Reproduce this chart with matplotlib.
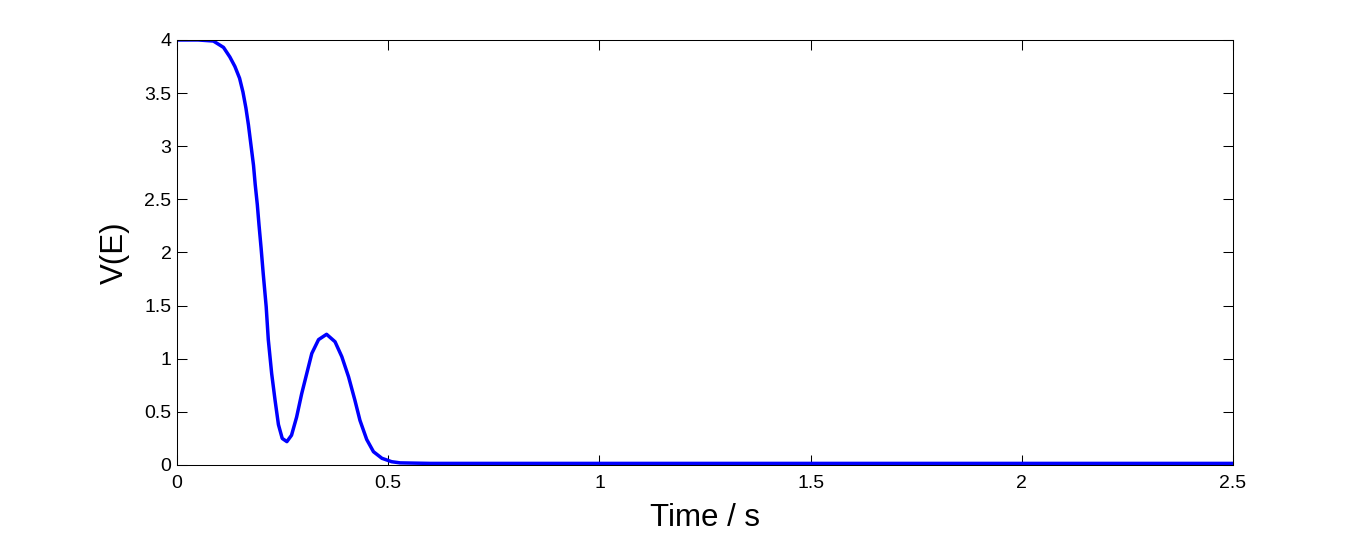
import matplotlib
matplotlib.use('Agg')
import matplotlib.pyplot as plt

plt.rcParams['font.family'] = ['Liberation Sans', 'DejaVu Sans']

# values
time = [0.0, 0.05, 0.086, 0.110, 0.125, 0.137, 0.148, 0.156, 0.163, 0.169,
        0.175, 0.181, 0.185, 0.190, 0.194, 0.199, 0.204, 0.211, 0.216, 0.224,
        0.232, 0.240, 0.249, 0.260, 0.271, 0.283, 0.295, 0.307, 0.319, 0.335,
        0.354, 0.374, 0.390, 0.406, 0.421, 0.433, 0.449, 0.465, 0.485, 0.508,
        0.528, 0.6, 1.0, 1.5, 2.0, 2.5]
ve = [4.0, 4.0, 3.99, 3.93, 3.84, 3.75, 3.64, 3.51, 3.36, 3.20,
      3.01, 2.82, 2.64, 2.45, 2.26, 2.04, 1.80, 1.49, 1.18, 0.86,
      0.61, 0.38, 0.25, 0.22, 0.28, 0.45, 0.67, 0.86, 1.05, 1.18,
      1.23, 1.16, 1.02, 0.83, 0.61, 0.42, 0.24, 0.125, 0.063, 0.031,
      0.02, 0.015, 0.015, 0.015, 0.015, 0.015]

xticks = [0, 0.5, 1, 1.5, 2, 2.5]
yticks = [0, 0.5, 1, 1.5, 2, 2.5, 3, 3.5, 4]

fig = plt.figure(figsize=(13.62, 5.38), dpi=100)
ax = fig.add_axes([0.130, 0.1357, 0.7753, 0.79])

ax.plot(time, ve, color='#0000ff', linewidth=2.5)

ax.set_xlim(0, 2.5)
ax.set_ylim(0, 4)
ax.set_xticks(xticks)
ax.set_xticklabels([f'{t:g}' for t in xticks])
ax.set_yticks(yticks)
ax.set_yticklabels([f'{t:g}' for t in yticks])
ax.tick_params(direction='in', length=7.5, width=0.75, top=True, right=True,
               labelsize=14)
ax.tick_params(axis='x', pad=7)
ax.tick_params(axis='y', pad=4)
for s in ax.spines.values():
    s.set_linewidth(0.75)

ax.set_xlabel('Time / s', fontsize=22.5)
ax.set_ylabel('V(E)', fontsize=22.5)
ax.xaxis.set_label_coords(0.5, -0.125)
ax.yaxis.set_label_coords(-0.0587, 0.5)
ax.yaxis.label.set_va('center')
ax.xaxis.label.set_va('center')

fig.savefig('out.png', dpi=100)
